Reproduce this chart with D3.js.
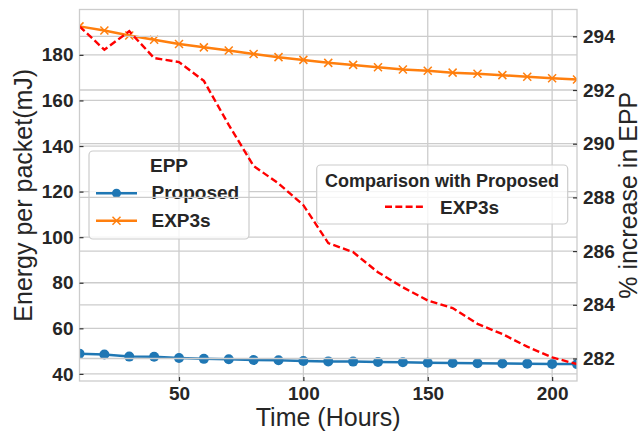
<!DOCTYPE html>
<html>
<head>
<meta charset="utf-8">
<script src="https://cdn.jsdelivr.net/npm/d3@7"></script>
<style>
  body { margin: 0; background: #fff; }
  svg text { font-family: "Liberation Sans", Arial, sans-serif; fill: #262626; }
</style>
</head>
<body>
<svg id="chart" width="641" height="432"></svg>
<script>
// Datos
const hours = [10, 20, 30, 40, 50, 60, 70, 80, 90, 100, 110, 120, 130, 140, 150, 160, 170, 180, 190, 200, 210];
const proposedEPP = [48.9, 48.5, 47.6, 47.5, 47.0, 46.6, 46.4, 46.1, 46.0, 45.7, 45.5, 45.4, 45.2, 45.1, 44.9, 44.8, 44.7, 44.6, 44.5, 44.4, 44.3];
const exp3sEPP = [192.5, 190.7, 188.5, 186.6, 184.8, 183.3, 181.9, 180.4, 179.0, 177.8, 176.5, 175.6, 174.6, 173.6, 173.0, 172.2, 171.7, 171.1, 170.4, 169.7, 169.2];
const increasePct = [294.37, 293.50, 294.19, 293.19, 293.04, 292.34, 290.70, 289.17, 288.52, 287.71, 286.30, 285.96, 285.21, 284.65, 284.16, 283.88, 283.29, 282.91, 282.44, 282.04, 281.79];

const xTicks = [50, 100, 150, 200];
const leftTicks = [40, 60, 80, 100, 120, 140, 160, 180];
const rightTicks = [282, 284, 286, 288, 290, 292, 294];

// Configuracion del grafico
const plotLeft = 79.5, plotRight = 577, plotTop = 9.5, plotBottom = 381;
const gridColor = "#cccccc";
const blue = "#1f77b4", orange = "#ff7f0e", red = "#ff0000";

const svg = d3.select("#chart");

// margen del 5% como matplotlib
function padded(values) {
    const ext = d3.extent(values);
    const pad = (ext[1] - ext[0]) * 0.05;
    return [ext[0] - pad, ext[1] + pad];
}

const x = d3.scaleLinear().domain(d3.extent(hours)).range([plotLeft, plotRight]);
const yLeft = d3.scaleLinear().domain(padded(proposedEPP.concat(exp3sEPP))).range([plotBottom, plotTop]);
const yRight = d3.scaleLinear().domain(padded(increasePct)).range([plotBottom, plotTop]);

svg.append("defs").append("clipPath").attr("id", "plot-clip")
    .append("rect")
    .attr("x", plotLeft).attr("y", plotTop)
    .attr("width", plotRight - plotLeft).attr("height", plotBottom - plotTop);

// Rejilla del eje izquierdo
const grid1 = svg.append("g");
grid1.selectAll(".vgrid").data(xTicks).join("line")
    .attr("x1", d => x(d)).attr("x2", d => x(d))
    .attr("y1", plotTop).attr("y2", plotBottom)
    .attr("stroke", gridColor).attr("stroke-width", 1.3);
grid1.selectAll(".hgrid").data(leftTicks).join("line")
    .attr("x1", plotLeft).attr("x2", plotRight)
    .attr("y1", d => yLeft(d)).attr("y2", d => yLeft(d))
    .attr("stroke", gridColor).attr("stroke-width", 1.3);

// Series del eje izquierdo
const series1 = svg.append("g").attr("clip-path", "url(#plot-clip)");

series1.append("path")
    .datum(hours.map((h, i) => [h, proposedEPP[i]]))
    .attr("fill", "none").attr("stroke", blue).attr("stroke-width", 2.5)
    .attr("d", d3.line().x(d => x(d[0])).y(d => yLeft(d[1])));
series1.selectAll(".dot").data(hours).join("circle")
    .attr("cx", (d) => x(d)).attr("cy", (d, i) => yLeft(proposedEPP[i]))
    .attr("r", 5).attr("fill", blue);

series1.append("path")
    .datum(hours.map((h, i) => [h, exp3sEPP[i]]))
    .attr("fill", "none").attr("stroke", orange).attr("stroke-width", 2.5)
    .attr("d", d3.line().x(d => x(d[0])).y(d => yLeft(d[1])));

function drawCross(g, cx, cy, s) {
    g.append("path")
        .attr("d", `M${cx - s},${cy - s}L${cx + s},${cy + s}M${cx - s},${cy + s}L${cx + s},${cy - s}`)
        .attr("stroke", orange).attr("stroke-width", 1.5).attr("fill", "none");
}
hours.forEach((h, i) => drawCross(series1, x(h), yLeft(exp3sEPP[i]), 4));

// Leyenda EPP (semitransparente)
const leg1 = svg.append("g");
leg1.append("rect")
    .attr("x", 89).attr("y", 151).attr("width", 160).attr("height", 88)
    .attr("rx", 4).attr("fill", "#fff").attr("fill-opacity", 0.8)
    .attr("stroke", gridColor).attr("stroke-width", 1.2);
leg1.append("text").attr("x", 169).attr("y", 172.3)
    .attr("text-anchor", "middle").attr("font-size", 19).attr("font-weight", "bold").text("EPP");
leg1.append("line").attr("x1", 96).attr("x2", 137).attr("y1", 193.3).attr("y2", 193.3)
    .attr("stroke", blue).attr("stroke-width", 2.5);
leg1.append("circle").attr("cx", 116.5).attr("cy", 193.3).attr("r", 4.5).attr("fill", blue);
leg1.append("text").attr("x", 151.5).attr("y", 199)
    .attr("font-size", 19).attr("font-weight", "bold").text("Proposed");
leg1.append("line").attr("x1", 96).attr("x2", 137).attr("y1", 220.7).attr("y2", 220.7)
    .attr("stroke", orange).attr("stroke-width", 2.5);
drawCross(leg1, 116.5, 220.7, 4);
leg1.append("text").attr("x", 151.5).attr("y", 227.3)
    .attr("font-size", 19).attr("font-weight", "bold").text("EXP3s");

// Rejilla del eje derecho (encima de la primera capa)
svg.append("g").selectAll("line").data(rightTicks).join("line")
    .attr("x1", plotLeft).attr("x2", plotRight)
    .attr("y1", d => yRight(d)).attr("y2", d => yRight(d))
    .attr("stroke", gridColor).attr("stroke-width", 1.3);

// Serie del eje derecho
svg.append("path")
    .datum(hours.map((h, i) => [h, increasePct[i]]))
    .attr("clip-path", "url(#plot-clip)")
    .attr("fill", "none").attr("stroke", red).attr("stroke-width", 2.4)
    .attr("stroke-dasharray", "7,3.3")
    .attr("d", d3.line().x(d => x(d[0])).y(d => yRight(d[1])));

// Marco
svg.append("rect")
    .attr("x", plotLeft).attr("y", plotTop).attr("width", plotRight - plotLeft).attr("height", plotBottom - plotTop)
    .attr("fill", "none").attr("stroke", gridColor).attr("stroke-width", 1.3);

// Ejes con d3.axis (marcas hacia dentro)
function styleAxis(g) {
    g.select(".domain").remove();
    g.selectAll(".tick line").attr("stroke", "#333").attr("stroke-width", 1.2);
    g.selectAll(".tick text")
        .attr("font-size", 19).attr("font-weight", "bold")
        .attr("font-family", "Liberation Sans, Arial, sans-serif").attr("fill", "#262626");
}

svg.append("g").attr("transform", `translate(0,${plotBottom})`)
    .call(d3.axisBottom(x).tickValues(xTicks).tickSizeInner(-4).tickPadding(5.5).tickFormat(d3.format("d")))
    .call(styleAxis);
svg.append("g").attr("transform", `translate(${plotLeft},0)`)
    .call(d3.axisLeft(yLeft).tickValues(leftTicks).tickSizeInner(-4).tickPadding(6).tickFormat(d3.format("d")))
    .call(styleAxis);
svg.append("g").attr("transform", `translate(${plotRight},0)`)
    .call(d3.axisRight(yRight).tickValues(rightTicks).tickSizeInner(-4).tickPadding(6).tickFormat(d3.format("d")))
    .call(styleAxis);

// Titulos de ejes
svg.append("text").attr("x", (plotLeft + plotRight) / 2).attr("y", 426)
    .attr("text-anchor", "middle").attr("font-size", 25).text("Time (Hours)");
svg.append("text").attr("transform", `translate(32,${(plotTop + plotBottom) / 2}) rotate(-90)`)
    .attr("text-anchor", "middle").attr("font-size", 25).text("Energy per packet(mJ)");
svg.append("text").attr("transform", `translate(637,${(plotTop + plotBottom) / 2}) rotate(-90)`)
    .attr("text-anchor", "middle").attr("font-size", 25).text("% increase in EPP");

// Leyenda de comparacion
const leg2 = svg.append("g");
leg2.append("rect")
    .attr("x", 316.7).attr("y", 165).attr("width", 251).attr("height", 59)
    .attr("rx", 4).attr("fill", "#fff").attr("fill-opacity", 0.8)
    .attr("stroke", gridColor).attr("stroke-width", 1.2);
leg2.append("text").attr("x", 442).attr("y", 186.7)
    .attr("text-anchor", "middle").attr("font-size", 18).attr("font-weight", "bold").text("Comparison with Proposed");
leg2.append("line").attr("x1", 385).attr("x2", 424).attr("y1", 206.7).attr("y2", 206.7)
    .attr("stroke", red).attr("stroke-width", 2.4).attr("stroke-dasharray", "7,3.3");
leg2.append("text").attr("x", 440).attr("y", 214)
    .attr("font-size", 19).attr("font-weight", "bold").text("EXP3s");
</script>
</body>
</html>
